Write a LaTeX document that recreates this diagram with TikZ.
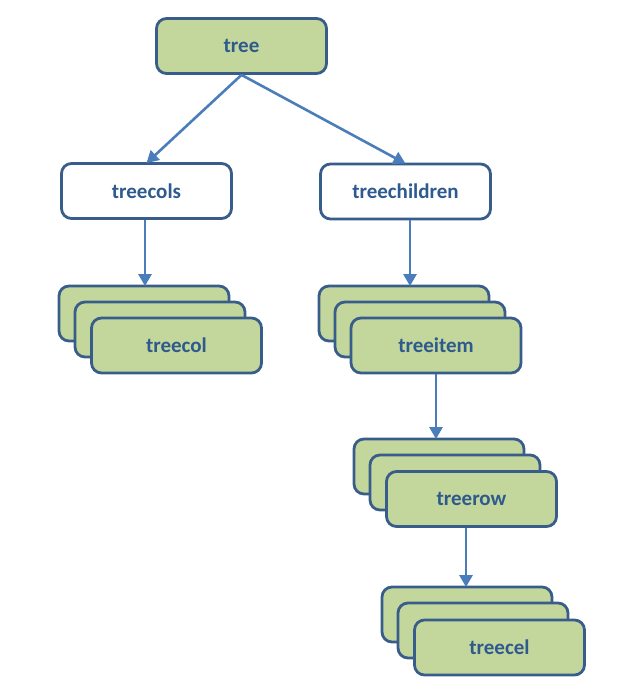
\documentclass[tikz,border=0pt]{standalone}
\usepackage{fontspec}
\setmainfont{Carlito}
\usetikzlibrary{arrows.meta}
\definecolor{boxfill}{HTML}{C3D69B}
\definecolor{boxline}{HTML}{385D8A}
\definecolor{arrowc}{HTML}{4A7EBB}
\definecolor{textc}{HTML}{2E5A8E}
\tikzset{
  box/.style={draw=boxline, line width=2.8pt, rounded corners=10pt, fill=boxfill,
    minimum width=170pt, minimum height=55pt, inner sep=0pt,
    text=textc, font=\fontsize{21}{25}\selectfont\bfseries},
  wbox/.style={box, fill=white},
  conn/.style={draw=arrowc, line width=2.6pt, -{Triangle[length=12pt,width=13pt]}}
}
\begin{document}
\begin{tikzpicture}[x=1pt,y=-1pt]
\useasboundingbox (0,0) rectangle (639,695);
\node[box] (tree) at (241.5,46) {tree};
\node[wbox] (treecols) at (146.5,191) {treecols};
\node[wbox] (treechildren) at (405.5,191.5) {treechildren};
% treecol stack
\node[box] (col1) at (144,313.5) {};
\node[box] (col2) at (160,329.5) {};
\node[box] (col3) at (176.5,345.5) {treecol};
% treeitem stack
\node[box] (item1) at (404,313.5) {};
\node[box] (item2) at (420,329.5) {};
\node[box] (item3) at (436,345.5) {treeitem};
% treerow stack
\node[box] (row1) at (439,466.5) {};
\node[box] (row2) at (455,482.5) {};
\node[box] (row3) at (471.5,499) {treerow};
% treecel stack
\node[box] (cel1) at (467,614.5) {};
\node[box] (cel2) at (483,630.5) {};
\node[box] (cel3) at (499.5,647.5) {treecel};
% connectors
\draw[conn] (tree.south) -- ([yshift=-1pt]treecols.north);
\draw[conn] (tree.south) -- ([yshift=-1pt]treechildren.north);
\draw[conn] ([xshift=-1.5pt]treecols.south) -- ([xshift=-1.5pt,yshift=-1.5pt]treecols.south |- col1.north);
\draw[conn] ([xshift=4.5pt]treechildren.south) -- ([xshift=4.5pt,yshift=-1.5pt]treechildren.south |- item1.north);
\draw[conn] (item3.south) -- ([yshift=-1.5pt]item3.south |- row1.north);
\draw[conn] ([xshift=-5.5pt]row3.south) -- ([xshift=-5.5pt,yshift=-1.5pt]row3.south |- cel1.north);
\end{tikzpicture}
\end{document}
